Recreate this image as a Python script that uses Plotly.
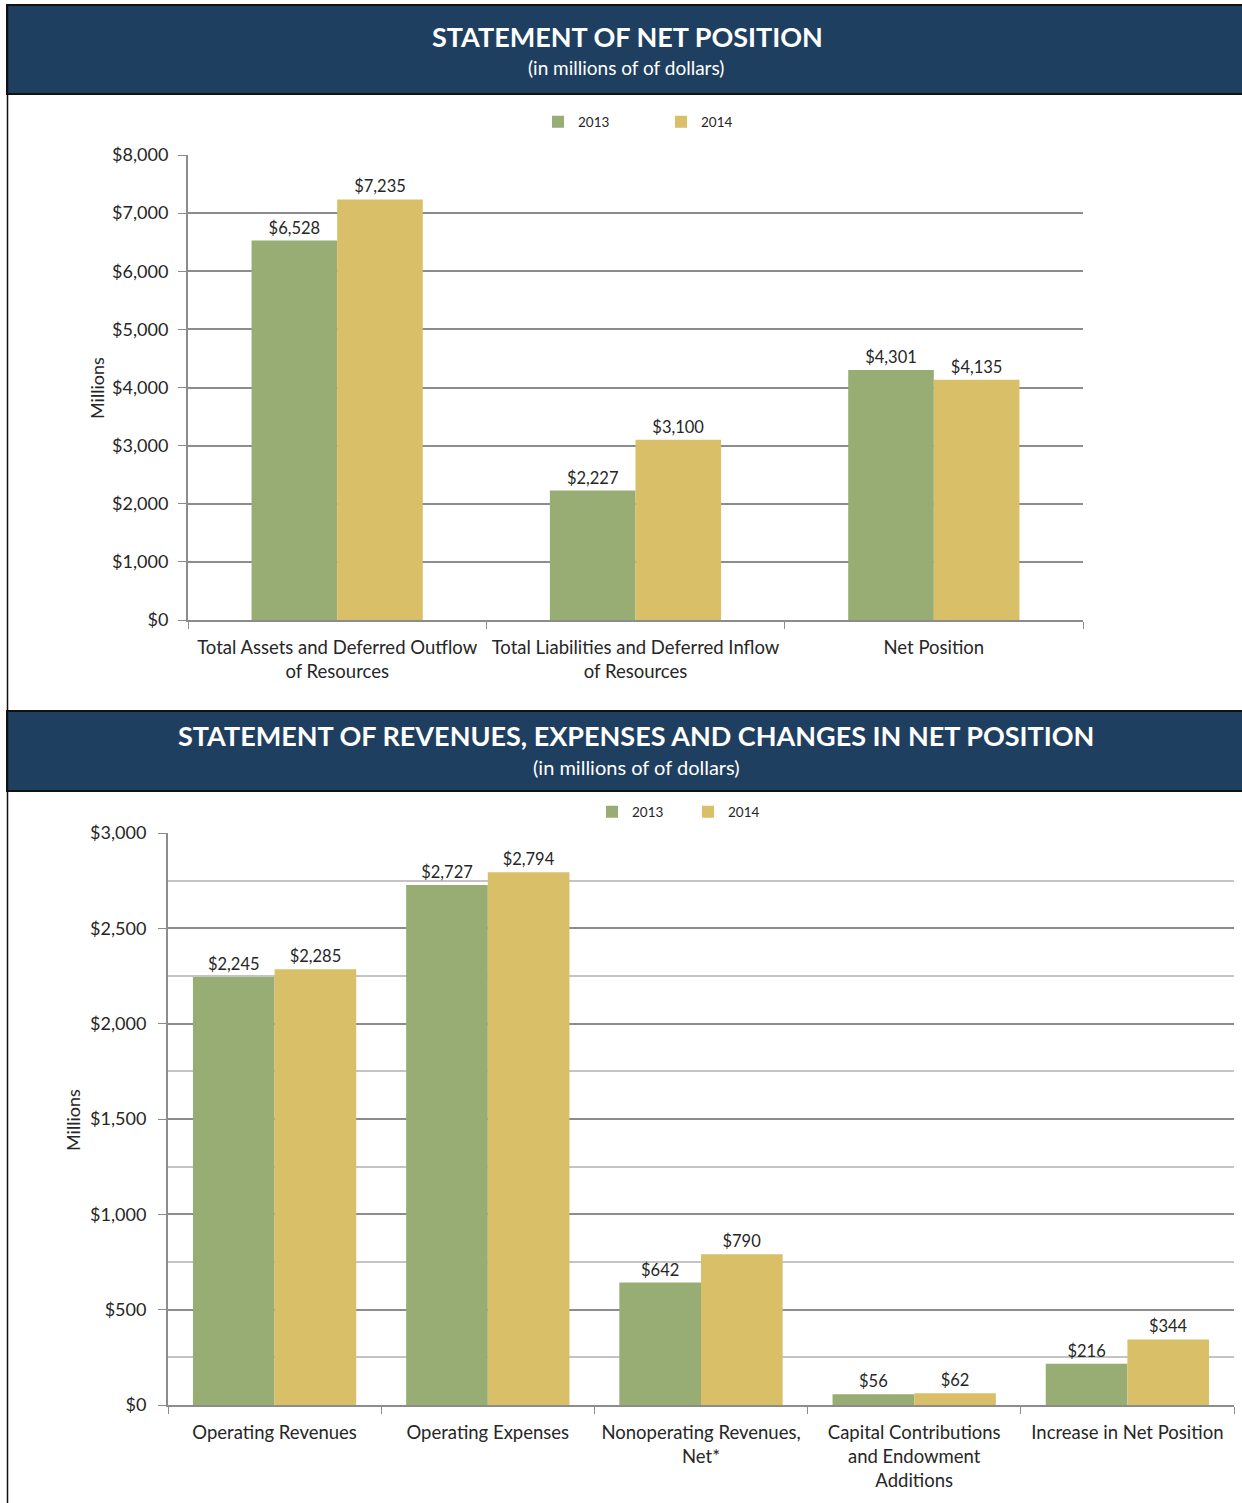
import plotly.graph_objects as go

# ---------------- data ----------------
top_categories = ["Total Assets and Deferred Outflow<br>of Resources",
                  "Total Liabilities and Deferred Inflow<br>of Resources",
                  "Net Position"]
top_2013 = [6528, 2227, 4301]
top_2014 = [7235, 3100, 4135]

bot_categories = ["Operating Revenues", "Operating Expenses",
                  "Nonoperating Revenues,<br>Net*",
                  "Capital Contributions<br>and Endowment<br>Additions",
                  "Increase in Net Position"]
bot_2013 = [2245, 2727, 642, 56, 216]
bot_2014 = [2285, 2794, 790, 62, 344]

series_names = ["2013", "2014"]
title_top = "STATEMENT OF NET POSITION"
sub_top = "(in millions of of dollars)"
title_bot = "STATEMENT OF REVENUES, EXPENSES AND CHANGES IN NET POSITION"
sub_bot = "(in millions of of dollars)"

# ---------------- style ----------------
W, H = 1242, 1503
GREEN = "#97AD74"
GOLD = "#D9BF68"
NAVY = "#1F3F60"
GRID = "#8C8C8C"
MINOR = "#C4C4C4"
FONT = "Lato, sans-serif"
TXT = "#262626"


def px(x):
    return x / W


def py(y):
    return 1 - y / H


fig = go.Figure()

for name, vals, col in [(series_names[0], top_2013, GREEN), (series_names[1], top_2014, GOLD)]:
    fig.add_trace(go.Bar(x=top_categories, y=vals, name=name, marker=dict(color=col, line=dict(width=0)),
                         texttemplate="$%{y:,}", textposition="outside", cliponaxis=False,
                         textfont=dict(size=16.5, color=TXT, family=FONT),
                         xaxis="x", yaxis="y", legend="legend"))

for name, vals, col in [(series_names[0], bot_2013, GREEN), (series_names[1], bot_2014, GOLD)]:
    fig.add_trace(go.Bar(x=bot_categories, y=vals, name=name, marker=dict(color=col, line=dict(width=0)),
                         texttemplate="$%{y:,}", textposition="outside", cliponaxis=False,
                         textfont=dict(size=16.5, color=TXT, family=FONT),
                         xaxis="x2", yaxis="y2", legend="legend2"))

# bar widths / offsets (category units) to mimic the reference gaps
for tr in fig.data[:2]:
    tr.width = 0.287
fig.data[0].offset = -0.287
fig.data[1].offset = 0.0
for tr in fig.data[2:]:
    tr.width = 0.383
fig.data[2].offset = -0.383
fig.data[3].offset = 0.0

common_x = dict(type="category", showline=True, linecolor=GRID, linewidth=2, tickangle=0,
                ticks="outside", tickson="boundaries", ticklen=7, tickcolor=GRID,
                ticklabelstandoff=10, automargin=False,
                tickfont=dict(size=18.5, color=TXT, family=FONT), showgrid=False)
common_y = dict(showline=True, linecolor=GRID, linewidth=2, ticks="outside", ticklen=8,
                tickcolor=GRID, tickprefix="$", tickformat=",", gridcolor=GRID, gridwidth=1.5,
                automargin=False,
                tickfont=dict(size=18, color=TXT, family=FONT), zeroline=False)

fig.update_layout(
    width=W, height=H, autosize=False,
    margin=dict(l=0, r=0, t=0, b=0, pad=0, autoexpand=False),
    paper_bgcolor="white", plot_bgcolor="white",
    barmode="group",
    font=dict(family=FONT, color=TXT),
    xaxis=dict(domain=[px(188), px(1083)], anchor="y", **common_x),
    yaxis=dict(domain=[py(620), py(155)], anchor="x", range=[0, 8000], dtick=1000,
               ticklabelstandoff=6, **common_y),
    xaxis2=dict(domain=[px(168), px(1234)], anchor="y2", **common_x),
    yaxis2=dict(domain=[py(1405), py(833)], anchor="x2", range=[0, 3000], dtick=500,
                ticklabelstandoff=8,
                minor=dict(dtick=250, showgrid=True, gridcolor=MINOR, gridwidth=1.5),
                **common_y),
    legend=dict(orientation="h", x=px(538), xanchor="left", y=py(122), yanchor="middle",
                font=dict(size=13.5, color=TXT, family=FONT), entrywidth=78, entrywidthmode="pixels",
                bgcolor="rgba(0,0,0,0)", itemclick=False, itemwidth=30),
    legend2=dict(orientation="h", x=px(592), xanchor="left", y=py(812), yanchor="middle",
                 font=dict(size=13.5, color=TXT, family=FONT), entrywidth=51, entrywidthmode="pixels",
                 bgcolor="rgba(0,0,0,0)", itemclick=False, itemwidth=30),
)

shapes = [
    dict(type="rect", xref="paper", yref="paper", x0=px(7), x1=px(W + 2), y0=py(94), y1=py(5),
         fillcolor=NAVY, line=dict(color="#111111", width=2), layer="below"),
    dict(type="rect", xref="paper", yref="paper", x0=px(7), x1=px(W + 2), y0=py(791), y1=py(711),
         fillcolor=NAVY, line=dict(color="#111111", width=2), layer="below"),
    dict(type="line", xref="paper", yref="paper", x0=px(7.5), x1=px(7.5), y0=0, y1=py(5),
         line=dict(color="#111111", width=1.5)),
]
fig.update_layout(shapes=shapes)

annos = [
    dict(text="<b>" + title_top + "</b>", x=px(627), y=py(37), font=dict(size=27, color="white", family=FONT)),
    dict(text=sub_top, x=px(626), y=py(68), font=dict(size=19, color="white", family=FONT)),
    dict(text="<b>" + title_bot + "</b>", x=px(636), y=py(735), font=dict(size=27, color="white", family=FONT)),
    dict(text=sub_bot, x=px(636), y=py(767), font=dict(size=20, color="white", family=FONT)),
    dict(text="Millions", x=px(97), y=py(388), textangle=-90, font=dict(size=18, color=TXT, family=FONT)),
    dict(text="Millions", x=px(73), y=py(1120), textangle=-90, font=dict(size=18, color=TXT, family=FONT)),
]
for a in annos:
    a.update(xref="paper", yref="paper", showarrow=False, xanchor="center", yanchor="middle")
fig.update_layout(annotations=annos)

post = ("document.documentElement.style.overflow='hidden';"
        "document.body.style.margin='0';document.body.style.overflow='hidden';"
        "var d=document.getElementById('{plot_id}');"
        "d.style.position='fixed';d.style.top='0px';d.style.left='0px';")

fig.write_html("out.html", config={"displayModeBar": False}, post_script=post)
